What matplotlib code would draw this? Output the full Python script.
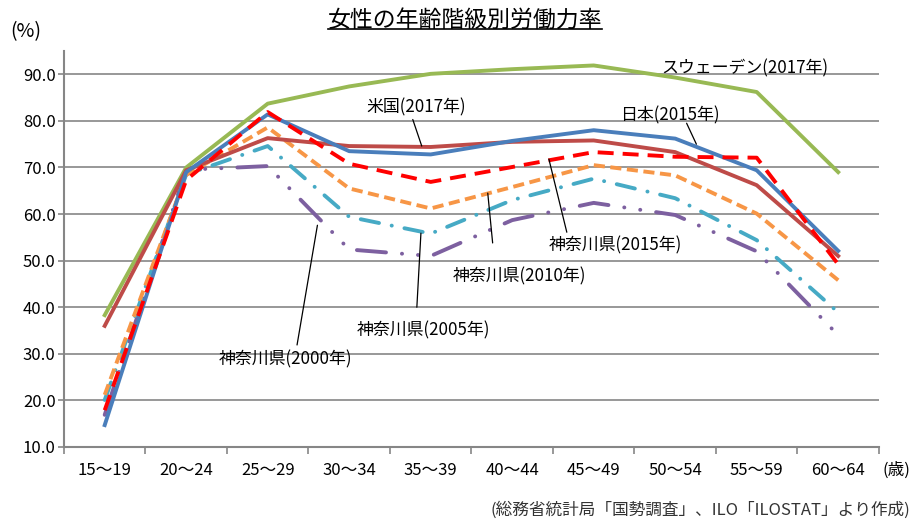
import matplotlib
matplotlib.use('Agg')
import matplotlib.pyplot as plt
from matplotlib.lines import Line2D
import numpy as np

plt.rcParams['font.family'] = ['Noto Sans CJK JP', 'DejaVu Sans']
plt.rcParams['lines.scale_dashes'] = False

# age groups
categories = ['15～19', '20～24', '25～29', '30～34', '35～39',
              '40～44', '45～49', '50～54', '55～59', '60～64']

# labour force participation rate (%)
k2000 = [16.9, 69.5, 70.3, 52.4, 51.0, 58.7, 62.4, 59.8, 52.0, 34.0]
k2005 = [20.1, 68.5, 74.6, 59.4, 55.8, 63.0, 67.6, 63.4, 54.4, 38.9]
k2010 = [21.2, 68.4, 78.6, 65.5, 61.2, 65.8, 70.5, 68.3, 60.1, 45.8]
sweden = [38.3, 70.0, 83.7, 87.4, 90.1, 91.1, 91.9, 89.3, 86.2, 69.0]
usa = [36.0, 69.4, 76.3, 74.6, 74.4, 75.5, 75.8, 73.3, 66.2, 51.0]
japan = [14.7, 69.0, 81.4, 73.5, 72.8, 75.7, 78.0, 76.2, 69.4, 52.1]
k2015 = [17.9, 67.3, 81.9, 70.8, 66.9, 70.1, 73.3, 72.3, 72.1, 49.2]

fig = plt.figure(figsize=(9.15, 5.2), dpi=100)
ax = fig.add_axes([0.0699, 0.1404, 0.8907, 0.7615])

x = np.arange(len(categories))
lw = 2.8

l, = ax.plot(x, k2000, color='#7D60A0', lw=lw, dash_capstyle='round')
l.set_dashes((21, 11.5, 0.1, 11.5, 0.1, 11.5))
l, = ax.plot(x, k2005, color='#46AAC5', lw=lw, dash_capstyle='round')
l.set_dashes((13.4, 9.3, 0.1, 9.3))
l, = ax.plot(x, k2010, color='#F79646', lw=lw)
l.set_dashes((8, 4))
ax.plot(x, sweden, color='#98B954', lw=lw)
ax.plot(x, usa, color='#BE4B48', lw=lw)
ax.plot(x, japan, color='#4A7EBB', lw=lw)
l, = ax.plot(x, k2015, color='#FF0000', lw=lw)
l.set_dashes((11.5, 6.5))

ax.set_xlim(-0.5, len(categories) - 0.5)
ax.set_ylim(10, 95)
ax.set_yticks(np.arange(10, 91, 10))
ax.set_yticklabels(['%.1f' % v for v in np.arange(10, 91, 10)], fontsize=12)
ax.set_xticks(np.arange(-0.5, len(categories), 1.0))
ax.set_xticklabels([])
ax.set_xticks(x, minor=True)
ax.set_xticklabels(categories, minor=True, fontsize=12)
ax.tick_params(axis='x', which='major', length=5, color='#868686', width=1.2)
ax.tick_params(axis='x', which='minor', length=0, pad=11)
ax.tick_params(axis='y', length=4, color='#868686', width=1.2, pad=2)

ax.grid(axis='y', color='#868686', lw=1.2)
ax.set_axisbelow(True)
for s in ['top', 'right']:
    ax.spines[s].set_visible(False)
for s in ['left', 'bottom']:
    ax.spines[s].set_color('#868686')
    ax.spines[s].set_linewidth(1.5)

# series labels with leader lines
labels = [
    ('スウェーデン(2017年)', (7.85, 91.3), None),
    ('日本(2015年)', (6.93, 81.2), ((7.14, 79.5), (7.26, 75.0))),
    ('米国(2017年)', (3.82, 82.8), ((3.78, 80.3), (3.89, 74.6))),
    ('神奈川県(2015年)', (6.27, 53.3), ((5.67, 56.1), (5.45, 71.8))),
    ('神奈川県(2010年)', (5.09, 46.6), ((4.76, 53.8), (4.70, 64.5))),
    ('神奈川県(2005年)', (3.91, 35.1), ((3.83, 40.0), (3.88, 55.9))),
    ('神奈川県(2000年)', (2.22, 28.7), ((2.36, 31.9), (2.61, 57.6))),
]
for txt, pos, lead in labels:
    ax.text(pos[0], pos[1], txt, ha='center', va='center', fontsize=12.2)
    if lead:
        ax.annotate('', xy=lead[1], xytext=lead[0],
                    arrowprops=dict(arrowstyle='-', lw=0.9, color='black',
                                    shrinkA=0, shrinkB=0))

title = fig.text(0.508, 0.962, '女性の年齢階級別労働力率', ha='center', va='center',
                 fontsize=16.5)
fig.text(0.011, 0.94, '(%)', ha='left', va='center', fontsize=14)
fig.text(0.995, 0.096, '(歳)', ha='right', va='center', fontsize=12)
fig.text(0.995, 0.019, '(総務省統計局「国勢調査」、ILO「ILOSTAT」より作成)',
         ha='right', va='center', fontsize=12, color='#333333')

# underline the title
fig.canvas.draw()
bb = title.get_window_extent().transformed(fig.transFigure.inverted())
fig.add_artist(Line2D([bb.x0, bb.x1], [bb.y0 + 0.004, bb.y0 + 0.004],
                      transform=fig.transFigure, color='black', lw=1.2))

plt.savefig('out.png', dpi=100)
plt.close()
